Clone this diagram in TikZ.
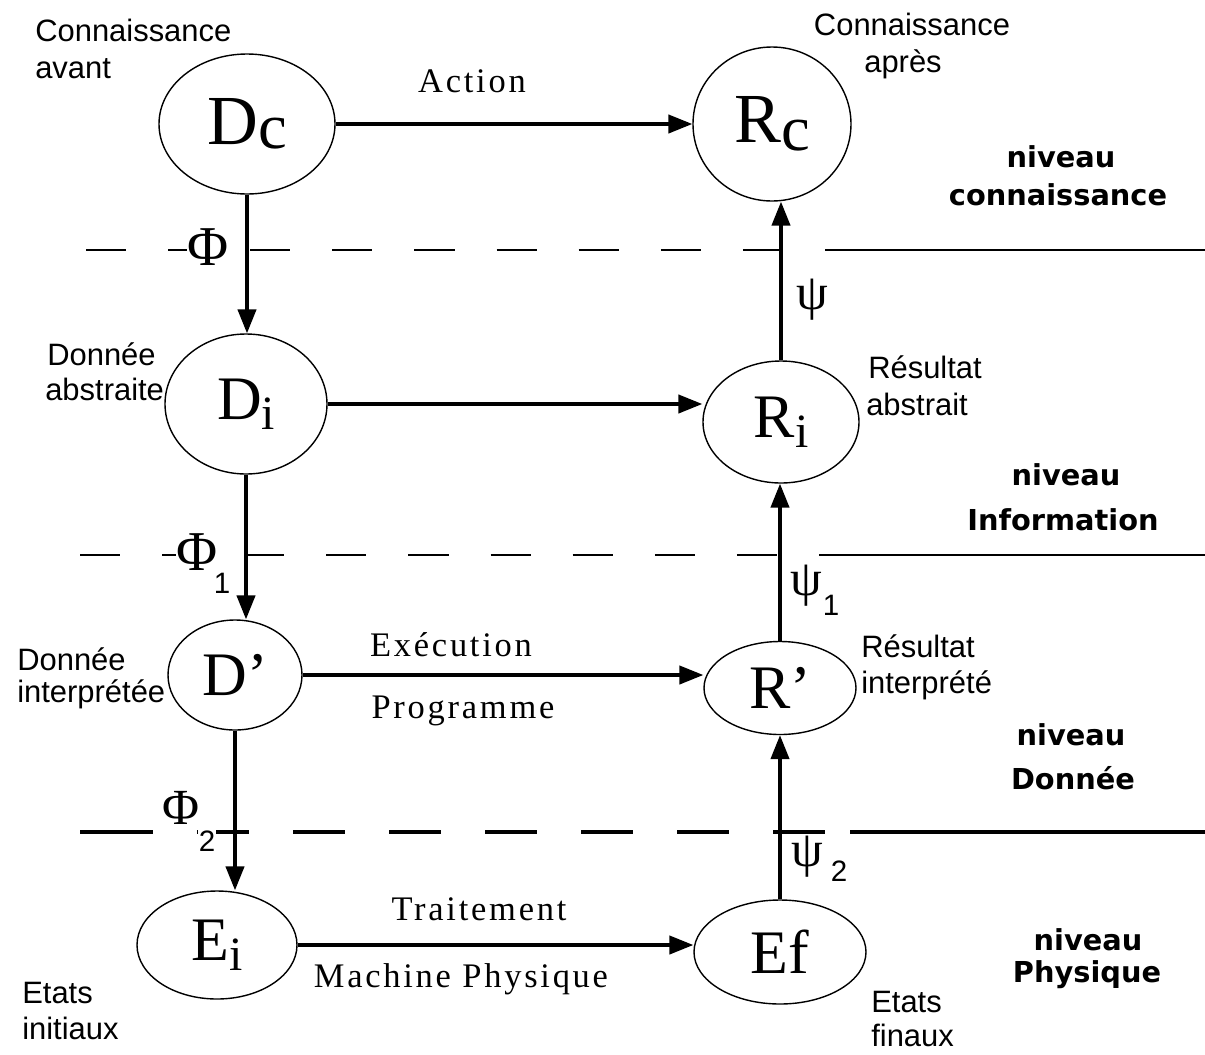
\documentclass[tikz,border=0pt]{standalone}
\usepackage{fontspec}
\setmainfont{Liberation Serif}
\newfontfamily\labfont{Liberation Sans}
\newfontfamily\lvlfont{DejaVu Sans}
\newfontfamily\edgefont{Liberation Serif}[LetterSpace=8]
\usetikzlibrary{arrows.meta,shapes.geometric}
\tikzset{
  state/.style={ellipse, draw, line width=1pt, inner sep=0pt},
  arr/.style={line width=2.3pt, -{Triangle[length=17pt,width=13pt]}},
  side/.style={font=\labfont\fontsize{22}{26}\selectfont, inner sep=0pt},
  level/.style={font=\lvlfont\bfseries\fontsize{20.5}{26}\selectfont, inner sep=0pt, anchor=base},
  elab/.style={font=\edgefont\fontsize{24.5}{28}\selectfont, inner sep=0pt, anchor=base},
  greek/.style={font=\fontsize{40}{42}\selectfont, inner sep=0pt, fill=white},
  psil/.style={font=\fontsize{36}{38}\selectfont, inner sep=0pt},
  subl/.style={font=\labfont\fontsize{21}{24}\selectfont, inner sep=0.5pt},
  sep/.style={line width=1.1pt, dash pattern=on 28.5pt off 29.9pt},
  sepsolid/.style={line width=1.1pt},
  sepb/.style={line width=2.2pt, dash pattern=on 37pt off 31.3pt, dash phase=53.3pt},
  sepbsolid/.style={line width=2.2pt}
}
\begin{document}
\begin{tikzpicture}[x=0.025cm, y=-0.025cm]
\useasboundingbox (0,0) rectangle (1205,1054);

% separator lines
\coordinate (s1a) at (86,250);  \coordinate (s1b) at (845,250);  \coordinate (s1c) at (1205,250);
\coordinate (s2a) at (80,555);  \coordinate (s2b) at (847,555);  \coordinate (s2c) at (1205,555);
\coordinate (s3a) at (80,832);  \coordinate (s3b) at (850,832);  \coordinate (s3c) at (1205,832);
\coordinate (s3d) at (111,832);
\draw[sep] (s1a) -- (s1b); \draw[sepsolid] (s1b) -- (s1c);
\draw[sep] (s2a) -- (s2b); \draw[sepsolid] (s2b) -- (s2c);
\draw[sepbsolid] (s3a) -- (s3d);
\draw[sepb] (s3a) -- (s3b); \draw[sepbsolid] (s3b) -- (s3c);

% states
\node[state, minimum width=176*0.025cm, minimum height=140*0.025cm] (Dc) at (247,124)
  {\fontsize{50}{50}\selectfont D\raisebox{-3pt}{\fontsize{46}{46}\selectfont c}};
\node[state, minimum width=158*0.025cm, minimum height=154*0.025cm] (Rc) at (772,124)
  {\fontsize{50}{50}\selectfont R\raisebox{-6pt}{\fontsize{46}{46}\selectfont c}};
\node[state, minimum width=162*0.025cm, minimum height=140*0.025cm] (Di) at (246,404)
  {\fontsize{44}{44}\selectfont D\raisebox{-7pt}{\fontsize{34}{34}\selectfont i}};
\node[state, minimum width=156*0.025cm, minimum height=122*0.025cm] (Ri) at (781,422)
  {\fontsize{44}{44}\selectfont R\raisebox{-7pt}{\fontsize{34}{34}\selectfont i}};
\node[state, minimum width=134*0.025cm, minimum height=110*0.025cm] (Dp) at (235,675)
  {\fontsize{44}{44}\selectfont D'};
\node[state, minimum width=152*0.025cm, minimum height=93*0.025cm] (Rp) at (780,688)
  {\fontsize{44}{44}\selectfont R'};
\node[state, minimum width=160*0.025cm, minimum height=108*0.025cm] (Ei) at (217,945)
  {\fontsize{44}{44}\selectfont E\raisebox{-7pt}{\fontsize{34}{34}\selectfont i}};
\node[state, minimum width=172*0.025cm, minimum height=104*0.025cm] (Ef) at (780,952)
  {\fontsize{44}{44}\selectfont Ef};

% connectors
\draw[arr] (Dc.east) -- (Dc.east -| Rc.west);
\draw[arr] (Di.east) -- (Di.east -| Ri.west);
\draw[arr] (Dp.east) -- (Dp.east -| Rp.west);
\draw[arr] (Ei.east) -- (Ei.east -| Ef.west);
\draw[arr] (Dc.south) -- (Dc.south |- Di.north);
\draw[arr] (Di.south) -- (Di.south |- Dp.north);
\draw[arr] (Dp.south) -- (Dp.south |- Ei.north);
\draw[arr] (Ri.north) -- (Ri.north |- Rc.south);
\draw[arr] (Rp.north) -- (Rp.north |- Ri.south);
\draw[arr] (Ef.north) -- (Ef.north |- Rp.south);

% greek labels
\node[greek] (phi0) at (208,247) {Φ};
\node[greek] (phi1) at (197,552) {Φ};
\node[subl] (phi1s) at (222,583) {1};
\node[psil] (phi2) at (181,808) {Φ};
\node[subl, fill=white] (phi2s) at (207,841) {2};
\node[psil] (psi0) at (812,300) {ψ};
\node[psil] (psi1) at (806,586) {ψ};
\node[subl] (psi1s) at (831,605) {1};
\node[psil] (psi2) at (807,857) {ψ};
\node[subl] (psi2s) at (839,871) {2};

% edge labels
\node[elab] (act) at (472,92) {Action};
\node[elab] (exe) at (451,656) {Exécution};
\node[elab] (prog) at (463,718) {Programme};
\node[elab] (trt) at (479,920) {Traitement};
\node[elab] (mach) at (461,987) {Machine Physique};

% side labels
\node[side, anchor=base west] (ca1) at (35,41) {Connaissance};
\node[side, anchor=base west] (ca2) at (35,78) {avant};
\node[side, anchor=base] (cp1) at (912,35) {Connaissance};
\node[side, anchor=base] (cp2) at (903,72) {après};
\node[side, anchor=base west] (da1) at (47,365) {Donnée};
\node[side, anchor=base west] (da2) at (45,400) {abstraite};
\node[side, anchor=base west] (ra1) at (868,378) {Résultat};
\node[side, anchor=base west] (ra2) at (866,415) {abstrait};
\node[side, anchor=base west] (di1) at (17,670) {Donnée};
\node[side, anchor=base west] (di2) at (17,702) {interprétée};
\node[side, anchor=base west] (ri1) at (861,657) {Résultat};
\node[side, anchor=base west] (ri2) at (861,693) {interprété};
\node[side, anchor=base west] (ei1) at (22,1003) {Etats};
\node[side, anchor=base west] (ei2) at (22,1039) {initiaux};
\node[side, anchor=base west] (ef1) at (871,1012) {Etats};
\node[side, anchor=base west] (ef2) at (871,1046) {finaux};

% level labels
\node[level] (l1a) at (1061,167) {niveau};
\node[level] (l1b) at (1058,205) {connaissance};
\node[level] (l2a) at (1066,485) {niveau};
\node[level] (l2b) at (1063,530) {Information};
\node[level] (l3a) at (1071,745) {niveau};
\node[level] (l3b) at (1073,789) {Donnée};
\node[level] (l4a) at (1088,950) {niveau};
\node[level] (l4b) at (1087,982) {Physique};
\end{tikzpicture}
\end{document}
